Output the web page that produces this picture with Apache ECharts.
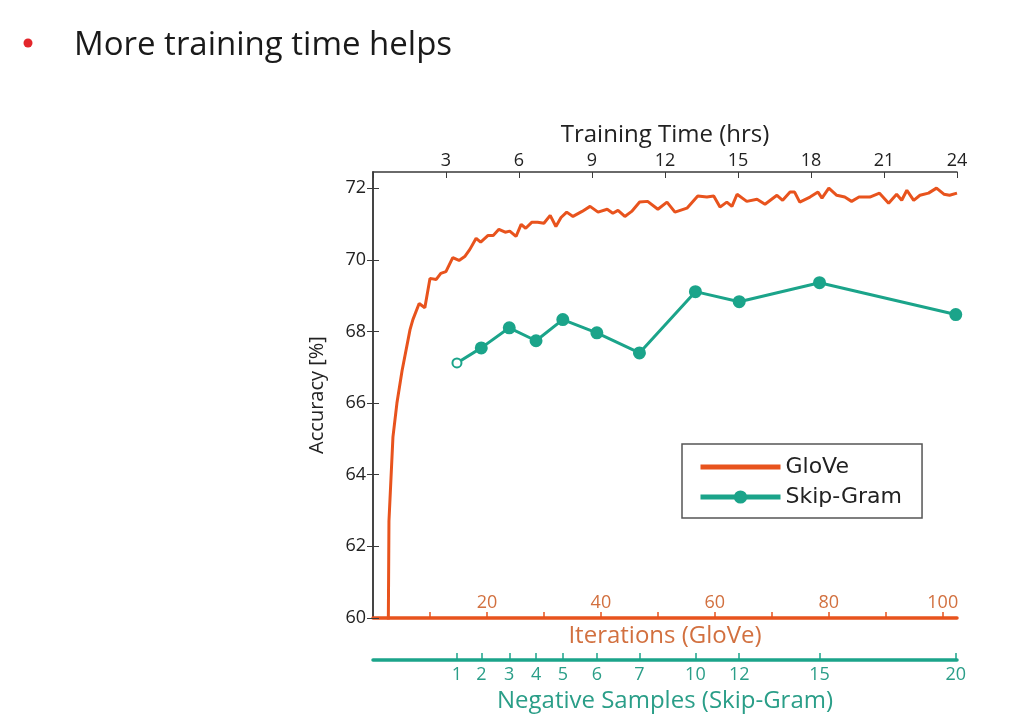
<!DOCTYPE html>
<html>
<head>
<meta charset="utf-8">
<title>More training time helps</title>
<script src="https://cdn.jsdelivr.net/npm/echarts@6/dist/echarts.min.js"></script>
<style>
  html, body { margin: 0; padding: 0; background: #fff; }
  #main { width: 1034px; height: 728px; }
</style>
</head>
<body>
<div id="main"></div>
<script type="text/javascript">
    // GloVe: accuracy against iterations
    var gloveIter = [2.3, 2.8, 3.5, 4.2, 5.1, 6.5, 7.0, 8.1, 9.1, 10.0, 11.1, 11.9, 12.8, 14.0, 15.1, 16.1, 17.0, 18.1, 18.9,
        20.2, 21.1, 22.1, 23.2, 24.0, 25.1, 26.0, 26.8, 27.9, 28.9, 30.0, 31.1, 32.1, 33.0, 34.0, 35.1, 36.7, 38.1, 39.5,
        41.1, 42.1, 43.0, 44.2, 45.4, 46.8, 48.2, 50.0, 51.6, 53.0, 55.1, 57.0, 58.6, 59.8, 60.9, 62.1, 63.0, 63.9, 65.6,
        67.4, 68.8, 70.9, 71.9, 73.2, 74.0, 74.9, 76.7, 78.1, 78.8, 80.0, 81.4, 82.8, 84.0, 85.3, 87.2, 88.9, 90.5, 91.9,
        92.8, 93.7, 94.9, 96.0, 97.5, 98.9, 100.2, 101.2, 102.5];
    var gloveAcc = [50.0, 62.7, 65.05, 66.0, 66.9, 68.05, 68.33, 68.78, 68.66, 69.48, 69.45, 69.62, 69.67, 70.06, 69.98, 70.09, 70.29, 70.60, 70.49,
        70.68, 70.68, 70.85, 70.77, 70.80, 70.65, 70.99, 70.88, 71.05, 71.05, 71.02, 71.24, 70.93, 71.18, 71.33, 71.21, 71.35, 71.49, 71.33,
        71.41, 71.30, 71.38, 71.21, 71.35, 71.61, 71.63, 71.41, 71.61, 71.33, 71.44, 71.78, 71.75, 71.78, 71.47, 71.61, 71.49, 71.83, 71.63,
        71.69, 71.55, 71.80, 71.66, 71.89, 71.89, 71.61, 71.75, 71.89, 71.72, 72.00, 71.80, 71.75, 71.63, 71.75, 71.75, 71.86, 71.58, 71.83,
        71.66, 71.94, 71.66, 71.80, 71.86, 72.00, 71.83, 71.80, 71.86];

    // Skip-Gram: training hours, accuracy and negative samples per point
    var skipHours = [3.45, 4.45, 5.6, 6.7, 7.8, 9.2, 10.95, 13.25, 15.05, 18.35, 23.95];
    var skipAcc = [67.12, 67.54, 68.10, 67.74, 68.33, 67.96, 67.40, 69.11, 68.83, 69.36, 68.47];
    var negSamples = [1, 2, 3, 4, 5, 6, 7, 10, 12, 15, 20];

    // tick labels
    var accTicks = [60, 62, 64, 66, 68, 70, 72];
    var iterLabels = [20, 40, 60, 80, 100];
    var iterTicks = [10, 20, 30, 40, 50, 60, 70, 80, 90, 100];

    var orange = '#e8531d';
    var orangeText = '#d2703f';
    var teal = '#1ba48a';
    var tealText = '#2a9e88';
    var frame = '#3a3a3a';
    var font = 'Open Sans';

    var myChart = echarts.init(document.getElementById('main'));

    var gloveData = gloveIter.map(function (x, i) { return [x, gloveAcc[i]]; });
    var skipData = skipHours.map(function (h, i) {
        var item = { value: [h, skipAcc[i]] };
        if (i === 0) {
            item.symbol = 'emptyCircle';
            item.symbolSize = 9;
        }
        return item;
    });

    function negLabel(v) {
        for (var i = 0; i < skipHours.length; i++) {
            if (Math.abs(skipHours[i] - v) < 1e-6) return String(negSamples[i]);
        }
        return '';
    }

    var option = {
        animation: false,
        textStyle: { fontFamily: font },
        graphic: [
            { type: 'circle', shape: { cx: 28, cy: 43, r: 4.5 }, style: { fill: '#e3262b' } },
            { type: 'text', left: 74, top: 29, style: { text: 'More training time helps', font: '33px "Open Sans"', fill: '#1a1a1a' } }
        ],
        grid: { left: 373, right: 77, top: 172, bottom: 110, show: false },
        legend: {
            left: 682, top: 444, orient: 'vertical',
            padding: [12, 20, 10, 16],
            itemGap: 8,
            itemWidth: 80, itemHeight: 14,
            borderColor: '#555', borderWidth: 1.5,
            lineStyle: { width: 5 },
            textStyle: { fontFamily: 'DejaVu Sans', fontSize: 22, color: '#222' },
            data: [
                { name: 'GloVe', icon: 'path://M0,0L80,0L80,5L0,5Z', itemStyle: { color: orange } },
                { name: 'Skip-Gram' }
            ]
        },
        xAxis: [
            {
                type: 'value', position: 'top', min: 0, max: 24, interval: 3,
                name: 'Training Time (hrs)', nameLocation: 'middle', nameGap: 22,
                nameTextStyle: { fontSize: 24, color: '#222' },
                axisLine: { lineStyle: { color: frame, width: 1.5 } },
                axisTick: { inside: true, length: 6, lineStyle: { color: frame } },
                axisLabel: {
                    margin: 2, fontSize: 18, color: '#222',
                    formatter: function (v) { return v === 0 ? '' : String(v); }
                },
                splitLine: { show: false }
            },
            {
                type: 'value', position: 'bottom', min: 0, max: 102.5,
                name: 'Iterations (GloVe)', nameLocation: 'middle', nameGap: 3,
                nameTextStyle: { fontSize: 24, color: orangeText, verticalAlign: 'top' },
                axisLine: { lineStyle: { color: orange, width: 3.5 } },
                axisTick: { inside: true, length: 6, customValues: iterTicks, lineStyle: { color: orange, width: 1.5 } },
                axisLabel: { inside: true, margin: 6, fontSize: 18, color: orangeText, customValues: iterLabels },
                splitLine: { show: false }
            },
            {
                type: 'value', position: 'bottom', offset: 42, min: 0, max: 24,
                name: 'Negative Samples (Skip-Gram)', nameLocation: 'middle', nameGap: 26,
                nameTextStyle: { fontSize: 24, color: tealText, verticalAlign: 'top' },
                axisLine: { lineStyle: { color: teal, width: 3.5 } },
                axisTick: { inside: true, length: 7, customValues: skipHours, lineStyle: { color: teal, width: 1.5 } },
                axisLabel: { margin: 6, fontSize: 18, color: tealText, customValues: skipHours, formatter: negLabel },
                splitLine: { show: false }
            }
        ],
        yAxis: [
            {
                type: 'value', position: 'left', min: 60, max: 72.45,
                name: 'Accuracy [%]', nameLocation: 'middle', nameGap: 46,
                nameTextStyle: { fontSize: 20, color: '#222' },
                axisLine: { show: true, lineStyle: { color: frame, width: 1.5 } },
                axisTick: { show: true, inside: true, length: 6, customValues: accTicks, lineStyle: { color: frame } },
                axisLabel: { margin: 7, fontSize: 18, color: '#222', customValues: accTicks },
                splitLine: { show: false }
            },
            {
                type: 'value', position: 'right', min: 60, max: 72.45,
                axisLine: { show: true, lineStyle: { color: frame, width: 1.5 } },
                axisTick: { show: true, inside: true, length: 6, customValues: accTicks, lineStyle: { color: frame } },
                axisLabel: { show: false },
                splitLine: { show: false }
            }
        ],
        series: [
            {
                name: 'GloVe', type: 'line', xAxisIndex: 1, yAxisIndex: 0,
                data: gloveData, showSymbol: false, symbol: 'none',
                lineStyle: { color: orange, width: 3 },
                itemStyle: { color: orange },
                clip: true, z: 3
            },
            {
                name: 'Skip-Gram', type: 'line', xAxisIndex: 0, yAxisIndex: 0,
                data: skipData, symbol: 'circle', symbolSize: 11,
                lineStyle: { color: teal, width: 3 },
                itemStyle: { color: teal, borderColor: teal, borderWidth: 2 },
                clip: false, z: 4
            }
        ]
    };

    myChart.setOption(option);
</script>
</body>
</html>
